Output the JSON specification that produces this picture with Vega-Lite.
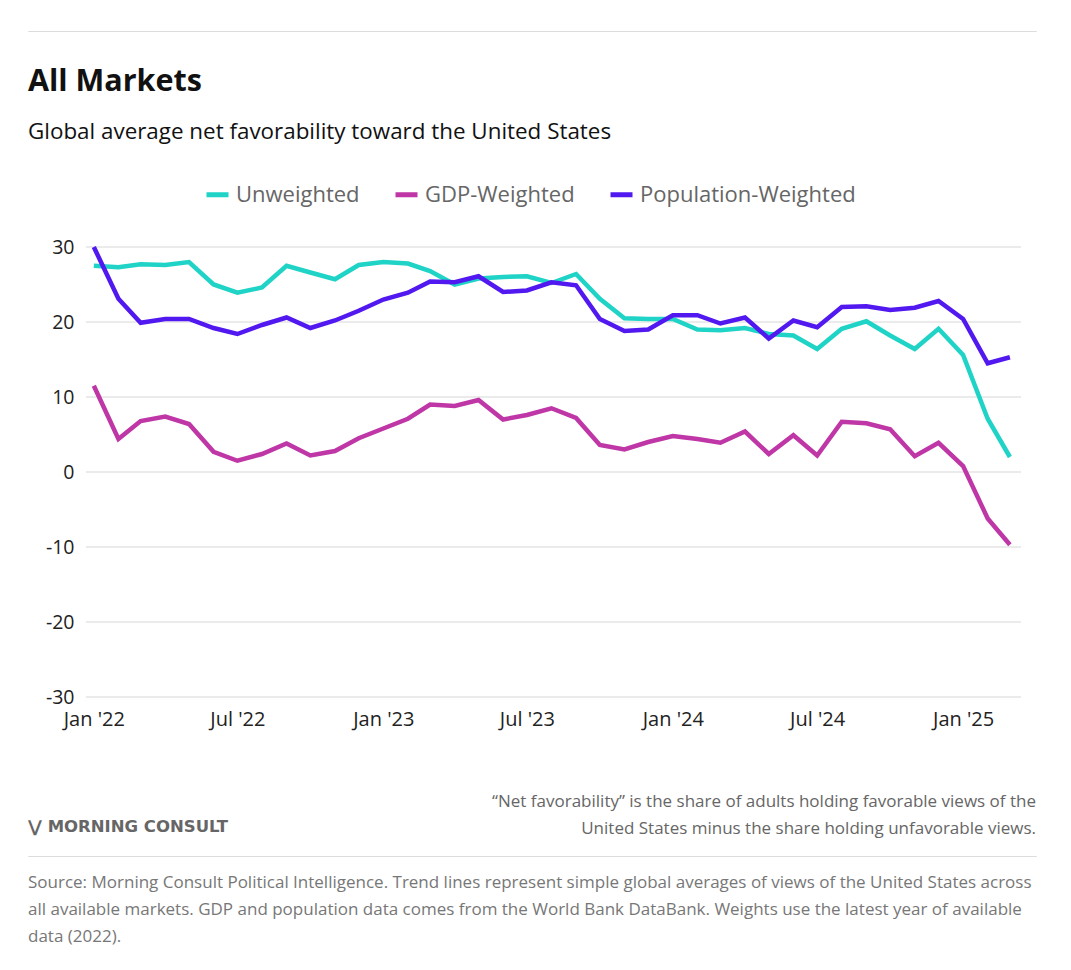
{
  "$schema": "https://vega.github.io/schema/vega-lite/v6.json",
  "padding": {"left": 27, "top": 30, "right": 10, "bottom": 10},
  "background": "white",
  "spacing": 35,
  "resolve": {"legend": {"color": "independent"}},
  "config": {
    "font": "Open Sans",
    "view": {"stroke": null},
    "title": {"font": "Open Sans", "fontWeight": "normal"}
  },
  "vconcat": [
    {
      "width": 1008,
      "height": 0.01,
      "view": {"stroke": "#dddddd", "strokeWidth": 1},
      "data": {"values": []},
      "mark": "point"
    },
    {
      "width": 993,
      "height": 450,
      "title": {
        "text": "All Markets",
        "subtitle": "Global average net favorability toward the United States",
        "anchor": "start",
        "frame": "group",
        "fontSize": 30.5,
        "fontWeight": "bold",
        "color": "#111111",
        "subtitleFontSize": 22.4,
        "subtitleColor": "#111111",
        "subtitleFont": "Open Sans",
        "subtitlePadding": 23,
        "offset": 38
      },
      "layer": [
        {
          "data": {"values": [{"g": -30}, {"g": -20}, {"g": -10}, {"g": 0}, {"g": 10}, {"g": 20}, {"g": 30}]},
          "mark": {"type": "rule", "color": "#e4e4e4", "strokeWidth": 1.5},
          "encoding": {
            "x": {"datum": {"year": 2021, "month": 12, "date": 22}, "type": "temporal"},
            "x2": {"datum": {"year": 2025, "month": 3, "date": 15}},
            "y": {
              "field": "g",
              "type": "quantitative",
              "scale": {"domain": [-30, 30]},
              "axis": {
                "title": null,
                "values": [-30, -20, -10, 0, 10, 20, 30],
                "labelExpr": "replace(datum.label, '−', '-')",
                "labelFontSize": 19.5,
                "labelColor": "#222222",
                "labelPadding": -46,
                "ticks": false,
                "domain": false,
                "grid": false
              }
            }
          }
        },
        {
          "data": {
            "values": [
              {"date": "2022/01/01", "series": "Unweighted", "value": 27.5},
              {"date": "2022/02/01", "series": "Unweighted", "value": 27.3},
              {"date": "2022/03/01", "series": "Unweighted", "value": 27.7},
              {"date": "2022/04/01", "series": "Unweighted", "value": 27.6},
              {"date": "2022/05/01", "series": "Unweighted", "value": 28.0},
              {"date": "2022/06/01", "series": "Unweighted", "value": 25.0},
              {"date": "2022/07/01", "series": "Unweighted", "value": 23.9},
              {"date": "2022/08/01", "series": "Unweighted", "value": 24.6},
              {"date": "2022/09/01", "series": "Unweighted", "value": 27.5},
              {"date": "2022/10/01", "series": "Unweighted", "value": 26.6},
              {"date": "2022/11/01", "series": "Unweighted", "value": 25.7},
              {"date": "2022/12/01", "series": "Unweighted", "value": 27.6},
              {"date": "2023/01/01", "series": "Unweighted", "value": 28.0},
              {"date": "2023/02/01", "series": "Unweighted", "value": 27.8},
              {"date": "2023/03/01", "series": "Unweighted", "value": 26.8},
              {"date": "2023/04/01", "series": "Unweighted", "value": 25.0},
              {"date": "2023/05/01", "series": "Unweighted", "value": 25.8},
              {"date": "2023/06/01", "series": "Unweighted", "value": 26.0},
              {"date": "2023/07/01", "series": "Unweighted", "value": 26.1},
              {"date": "2023/08/01", "series": "Unweighted", "value": 25.2},
              {"date": "2023/09/01", "series": "Unweighted", "value": 26.4},
              {"date": "2023/10/01", "series": "Unweighted", "value": 23.1},
              {"date": "2023/11/01", "series": "Unweighted", "value": 20.5},
              {"date": "2023/12/01", "series": "Unweighted", "value": 20.4},
              {"date": "2024/01/01", "series": "Unweighted", "value": 20.4},
              {"date": "2024/02/01", "series": "Unweighted", "value": 19.0},
              {"date": "2024/03/01", "series": "Unweighted", "value": 18.9},
              {"date": "2024/04/01", "series": "Unweighted", "value": 19.2},
              {"date": "2024/05/01", "series": "Unweighted", "value": 18.4},
              {"date": "2024/06/01", "series": "Unweighted", "value": 18.2},
              {"date": "2024/07/01", "series": "Unweighted", "value": 16.4},
              {"date": "2024/08/01", "series": "Unweighted", "value": 19.1},
              {"date": "2024/09/01", "series": "Unweighted", "value": 20.1},
              {"date": "2024/10/01", "series": "Unweighted", "value": 18.2},
              {"date": "2024/11/01", "series": "Unweighted", "value": 16.4},
              {"date": "2024/12/01", "series": "Unweighted", "value": 19.1},
              {"date": "2025/01/01", "series": "Unweighted", "value": 15.6},
              {"date": "2025/02/01", "series": "Unweighted", "value": 7.1},
              {"date": "2025/03/01", "series": "Unweighted", "value": 2.0},
              {"date": "2022/01/01", "series": "GDP-Weighted", "value": 11.5},
              {"date": "2022/02/01", "series": "GDP-Weighted", "value": 4.4},
              {"date": "2022/03/01", "series": "GDP-Weighted", "value": 6.8},
              {"date": "2022/04/01", "series": "GDP-Weighted", "value": 7.4},
              {"date": "2022/05/01", "series": "GDP-Weighted", "value": 6.4},
              {"date": "2022/06/01", "series": "GDP-Weighted", "value": 2.7},
              {"date": "2022/07/01", "series": "GDP-Weighted", "value": 1.5},
              {"date": "2022/08/01", "series": "GDP-Weighted", "value": 2.4},
              {"date": "2022/09/01", "series": "GDP-Weighted", "value": 3.8},
              {"date": "2022/10/01", "series": "GDP-Weighted", "value": 2.2},
              {"date": "2022/11/01", "series": "GDP-Weighted", "value": 2.8},
              {"date": "2022/12/01", "series": "GDP-Weighted", "value": 4.5},
              {"date": "2023/01/01", "series": "GDP-Weighted", "value": 5.8},
              {"date": "2023/02/01", "series": "GDP-Weighted", "value": 7.1},
              {"date": "2023/03/01", "series": "GDP-Weighted", "value": 9.0},
              {"date": "2023/04/01", "series": "GDP-Weighted", "value": 8.8},
              {"date": "2023/05/01", "series": "GDP-Weighted", "value": 9.6},
              {"date": "2023/06/01", "series": "GDP-Weighted", "value": 7.0},
              {"date": "2023/07/01", "series": "GDP-Weighted", "value": 7.6},
              {"date": "2023/08/01", "series": "GDP-Weighted", "value": 8.5},
              {"date": "2023/09/01", "series": "GDP-Weighted", "value": 7.2},
              {"date": "2023/10/01", "series": "GDP-Weighted", "value": 3.6},
              {"date": "2023/11/01", "series": "GDP-Weighted", "value": 3.0},
              {"date": "2023/12/01", "series": "GDP-Weighted", "value": 4.0},
              {"date": "2024/01/01", "series": "GDP-Weighted", "value": 4.8},
              {"date": "2024/02/01", "series": "GDP-Weighted", "value": 4.4},
              {"date": "2024/03/01", "series": "GDP-Weighted", "value": 3.9},
              {"date": "2024/04/01", "series": "GDP-Weighted", "value": 5.4},
              {"date": "2024/05/01", "series": "GDP-Weighted", "value": 2.4},
              {"date": "2024/06/01", "series": "GDP-Weighted", "value": 4.9},
              {"date": "2024/07/01", "series": "GDP-Weighted", "value": 2.2},
              {"date": "2024/08/01", "series": "GDP-Weighted", "value": 6.7},
              {"date": "2024/09/01", "series": "GDP-Weighted", "value": 6.5},
              {"date": "2024/10/01", "series": "GDP-Weighted", "value": 5.7},
              {"date": "2024/11/01", "series": "GDP-Weighted", "value": 2.1},
              {"date": "2024/12/01", "series": "GDP-Weighted", "value": 3.9},
              {"date": "2025/01/01", "series": "GDP-Weighted", "value": 0.8},
              {"date": "2025/02/01", "series": "GDP-Weighted", "value": -6.2},
              {"date": "2025/03/01", "series": "GDP-Weighted", "value": -9.7},
              {"date": "2022/01/01", "series": "Population-Weighted", "value": 30.0},
              {"date": "2022/02/01", "series": "Population-Weighted", "value": 23.1},
              {"date": "2022/03/01", "series": "Population-Weighted", "value": 19.9},
              {"date": "2022/04/01", "series": "Population-Weighted", "value": 20.4},
              {"date": "2022/05/01", "series": "Population-Weighted", "value": 20.4},
              {"date": "2022/06/01", "series": "Population-Weighted", "value": 19.2},
              {"date": "2022/07/01", "series": "Population-Weighted", "value": 18.4},
              {"date": "2022/08/01", "series": "Population-Weighted", "value": 19.6},
              {"date": "2022/09/01", "series": "Population-Weighted", "value": 20.6},
              {"date": "2022/10/01", "series": "Population-Weighted", "value": 19.2},
              {"date": "2022/11/01", "series": "Population-Weighted", "value": 20.2},
              {"date": "2022/12/01", "series": "Population-Weighted", "value": 21.5},
              {"date": "2023/01/01", "series": "Population-Weighted", "value": 23.0},
              {"date": "2023/02/01", "series": "Population-Weighted", "value": 23.9},
              {"date": "2023/03/01", "series": "Population-Weighted", "value": 25.4},
              {"date": "2023/04/01", "series": "Population-Weighted", "value": 25.3},
              {"date": "2023/05/01", "series": "Population-Weighted", "value": 26.1},
              {"date": "2023/06/01", "series": "Population-Weighted", "value": 24.0},
              {"date": "2023/07/01", "series": "Population-Weighted", "value": 24.2},
              {"date": "2023/08/01", "series": "Population-Weighted", "value": 25.3},
              {"date": "2023/09/01", "series": "Population-Weighted", "value": 24.9},
              {"date": "2023/10/01", "series": "Population-Weighted", "value": 20.4},
              {"date": "2023/11/01", "series": "Population-Weighted", "value": 18.8},
              {"date": "2023/12/01", "series": "Population-Weighted", "value": 19.0},
              {"date": "2024/01/01", "series": "Population-Weighted", "value": 20.9},
              {"date": "2024/02/01", "series": "Population-Weighted", "value": 20.9},
              {"date": "2024/03/01", "series": "Population-Weighted", "value": 19.8},
              {"date": "2024/04/01", "series": "Population-Weighted", "value": 20.6},
              {"date": "2024/05/01", "series": "Population-Weighted", "value": 17.8},
              {"date": "2024/06/01", "series": "Population-Weighted", "value": 20.2},
              {"date": "2024/07/01", "series": "Population-Weighted", "value": 19.3},
              {"date": "2024/08/01", "series": "Population-Weighted", "value": 22.0},
              {"date": "2024/09/01", "series": "Population-Weighted", "value": 22.1},
              {"date": "2024/10/01", "series": "Population-Weighted", "value": 21.6},
              {"date": "2024/11/01", "series": "Population-Weighted", "value": 21.9},
              {"date": "2024/12/01", "series": "Population-Weighted", "value": 22.8},
              {"date": "2025/01/01", "series": "Population-Weighted", "value": 20.4},
              {"date": "2025/02/01", "series": "Population-Weighted", "value": 14.5},
              {"date": "2025/03/01", "series": "Population-Weighted", "value": 15.3}
            ]
          },
          "mark": {"type": "line", "strokeWidth": 4.5},
          "encoding": {
            "x": {
              "field": "date",
              "type": "temporal",
              "scale": {"domain": [{"year": 2021, "month": 10, "date": 10}, {"year": 2025, "month": 3, "date": 15}]},
              "axis": {
                "title": null,
                "values": [
                  {"year": 2022, "month": 1, "date": 1},
                  {"year": 2022, "month": 7, "date": 1},
                  {"year": 2023, "month": 1, "date": 1},
                  {"year": 2023, "month": 7, "date": 1},
                  {"year": 2024, "month": 1, "date": 1},
                  {"year": 2024, "month": 7, "date": 1},
                  {"year": 2025, "month": 1, "date": 1}
                ],
                "format": "%b '%y",
                "labelFontSize": 20,
                "labelColor": "#222222",
                "labelPadding": 12,
                "grid": false,
                "ticks": false,
                "domain": false
              }
            },
            "y": {
              "field": "value",
              "type": "quantitative",
              "axis": {
                "title": null,
                "values": [-30, -20, -10, 0, 10, 20, 30],
                "labelExpr": "replace(datum.label, '−', '-')",
                "labelFontSize": 19.5,
                "labelColor": "#222222",
                "labelPadding": -46,
                "ticks": false,
                "domain": false,
                "grid": false
              }
            },
            "color": {
              "field": "series",
              "type": "nominal",
              "scale": {
                "domain": ["Unweighted", "GDP-Weighted", "Population-Weighted"],
                "range": ["#1fd3c6", "#bf36a6", "#5119ef"]
              },
              "legend": {
                "title": null,
                "orient": "none",
                "legendX": 176,
                "legendY": -66,
                "direction": "horizontal",
                "symbolType": "stroke",
                "symbolStrokeWidth": 5,
                "symbolSize": 484,
                "labelFontSize": 22,
                "labelColor": "#666666",
                "labelLimit": 400,
                "labelOffset": 5,
                "columnPadding": 25
              }
            }
          }
        }
      ]
    },
    {
      "spacing": 17,
      "vconcat": [
        {
          "spacing": 0,
          "hconcat": [
            {
              "width": 400,
              "height": 0.01,
              "data": {"values": []},
              "mark": "point",
              "title": {
                "text": "⋁ MORNING CONSULT",
                "orient": "bottom",
                "anchor": "start",
                "offset": 55,
                "font": "DejaVu Sans",
                "fontSize": 16.5,
                "fontWeight": "bold",
                "color": "#666666"
              }
            },
            {
              "width": 608,
              "height": 0.01,
              "data": {"values": []},
              "mark": "point",
              "title": {
                "text": ["“Net favorability” is the share of adults holding favorable views of the", "United States minus the share holding unfavorable views."],
                "orient": "bottom",
                "anchor": "end",
                "offset": 30,
                "fontSize": 17,
                "lineHeight": 27,
                "color": "#666666"
              }
            }
          ]
        },
        {
          "width": 1008,
          "height": 0.01,
          "view": {"stroke": "#dddddd", "strokeWidth": 1},
          "data": {"values": []},
          "mark": "point",
          "title": {
            "text": [
              "Source: Morning Consult Political Intelligence. Trend lines represent simple global averages of views of the United States across",
              "all available markets. GDP and population data comes from the World Bank DataBank. Weights use the latest year of available",
              "data (2022)."
            ],
            "orient": "bottom",
            "anchor": "start",
            "offset": 19,
            "fontSize": 17,
            "lineHeight": 27,
            "color": "#777777"
          }
        }
      ]
    }
  ]
}
